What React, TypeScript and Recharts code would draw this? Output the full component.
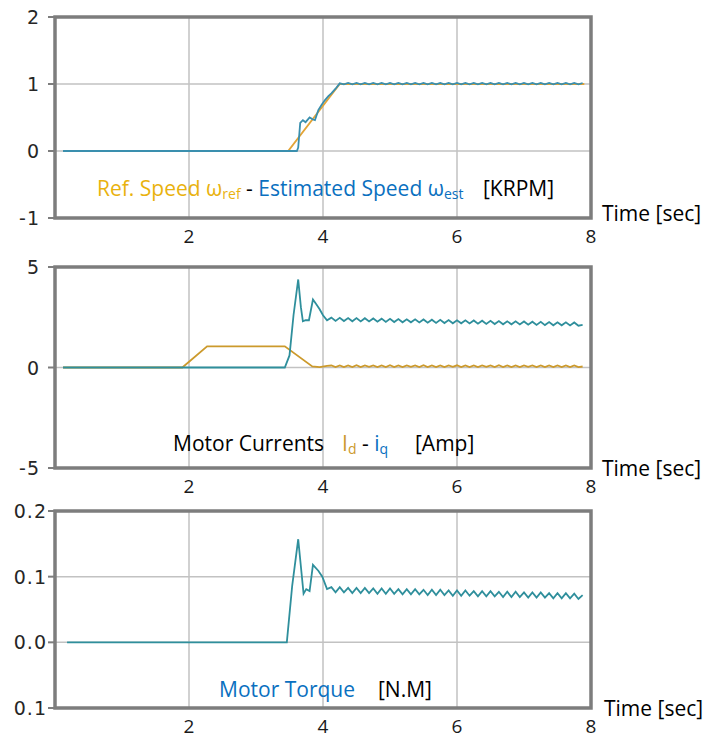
import React from "react";
import {
  LineChart,
  Line,
  XAxis,
  YAxis,
  CartesianGrid,
  ReferenceArea,
} from "recharts";

// time axis
const X_TICKS = [2, 4, 6, 8];

// shared time grid for the steady-state ripple part (s)
const RIPPLE_T = [
  4.125, 4.1875, 4.25, 4.3125,
  4.375, 4.4375, 4.5, 4.5625, 4.625, 4.6875, 4.75, 4.8125, 4.875, 4.9375,
  5.0, 5.0625, 5.125, 5.1875, 5.25, 5.3125, 5.375, 5.4375, 5.5, 5.5625, 5.625, 5.6875, 5.75, 5.8125, 5.875, 5.9375,
  6.0, 6.0625, 6.125, 6.1875, 6.25, 6.3125, 6.375, 6.4375, 6.5, 6.5625, 6.625, 6.6875, 6.75, 6.8125, 6.875, 6.9375,
  7.0, 7.0625, 7.125, 7.1875, 7.25, 7.3125, 7.375, 7.4375, 7.5, 7.5625, 7.625, 7.6875, 7.75, 7.8125, 7.875,
];

// --- speed [KRPM] ---
const SPEED_TICKS = [-1, 0, 1, 2];
const SPEED_LABELS = ["-1", "0", "1", "2"];
const SPEED_REF_T = [0.12, 3.48, 4.25, 7.9];
const SPEED_REF_V = [0, 0, 1, 1];
const SPEED_EST_T = [0.12, 3.61, 3.63, 3.66, 3.7, 3.74, 3.8, 3.85, 3.88, 3.93, 3.98, 4.03, 4.08];
const SPEED_EST_V = [0, 0, 0.05, 0.42, 0.46, 0.43, 0.5, 0.47, 0.46, 0.61, 0.69, 0.76, 0.82];
const SPEED_EST_RIPPLE = [
  0.86, 0.93, 1.01,
  0.995, 1.015, 0.995, 1.015, 0.995, 1.015, 0.995, 1.015, 0.995, 1.015,
  0.995, 1.015, 0.995, 1.015, 0.995, 1.015, 0.995, 1.015, 0.995, 1.015,
  0.995, 1.015, 0.995, 1.015, 0.995, 1.015, 0.995, 1.015, 0.995, 1.015,
  0.995, 1.015, 0.995, 1.015, 0.995, 1.015, 0.995, 1.015, 0.995, 1.015,
  0.995, 1.015, 0.995, 1.015, 0.995, 1.015, 0.995, 1.015, 0.995, 1.015,
  0.995, 1.015, 0.995, 1.015, 0.995, 1.015, 0.995, 1.015,
];

// --- currents [Amp] ---
const CURR_TICKS = [-5, 0, 5];
const CURR_LABELS = ["-5", "0", "5"];
const ID_T = [0.12, 1.9, 2.27, 3.43, 3.84, 3.95, 4.06];
const ID_V = [0, 0, 1.05, 1.05, 0.05, 0.02, 0.08];
const ID_RIPPLE = [
  0.1, 0.02, 0.1, 0.02, 0.1, 0.02, 0.11, 0.02, 0.1, 0.03, 0.1, 0.02,
  0.1, 0.02, 0.11, 0.02, 0.1, 0.02, 0.1, 0.03, 0.1, 0.02, 0.11, 0.02,
  0.1, 0.02, 0.1, 0.02, 0.1, 0.03, 0.11, 0.02, 0.1, 0.02, 0.1, 0.02,
  0.1, 0.03, 0.1, 0.02, 0.11, 0.02, 0.1, 0.02, 0.1, 0.02, 0.1, 0.03,
  0.1, 0.02, 0.1, 0.02, 0.1, 0.02, 0.1, 0.02, 0.1, 0.02, 0.1, 0.02, 0.05,
];
const IQ_T = [0.12, 3.43, 3.5, 3.56, 3.63, 3.67, 3.7, 3.74, 3.79, 3.85, 3.9, 3.95, 4.0, 4.06];
const IQ_V = [0, 0, 0.6, 2.6, 4.38, 3.0, 2.3, 2.35, 2.35, 3.38, 3.15, 2.9, 2.6, 2.35];
const IQ_RIPPLE = [
  2.48, 2.32, 2.47, 2.31, 2.46, 2.3, 2.46, 2.29, 2.45, 2.29,
  2.44, 2.28, 2.43, 2.27, 2.42, 2.26, 2.41, 2.25, 2.4, 2.25,
  2.4, 2.24, 2.39, 2.23, 2.38, 2.22, 2.37, 2.21, 2.36, 2.2,
  2.35, 2.2, 2.35, 2.19, 2.34, 2.18, 2.33, 2.17, 2.32, 2.16,
  2.31, 2.15, 2.3, 2.15, 2.3, 2.14, 2.29, 2.13, 2.28, 2.12,
  2.27, 2.11, 2.26, 2.1, 2.25, 2.1, 2.25, 2.09, 2.24, 2.08, 2.12,
];

// --- torque [N.M] ---
const TORQUE_TICKS = [-0.1, 0, 0.1, 0.2];
const TORQUE_LABELS = ["0.1", "0.0", "0.1", "0.2"];
const TORQUE_T = [0.18, 3.46, 3.54, 3.63, 3.71, 3.75, 3.8, 3.85, 3.93, 3.99, 4.06];
const TORQUE_V = [0, 0, 0.086, 0.157, 0.074, 0.081, 0.078, 0.118, 0.109, 0.1, 0.081];
const TORQUE_RIPPLE = [
  0.084, 0.076, 0.084, 0.076, 0.083, 0.075, 0.083, 0.075, 0.083, 0.075,
  0.082, 0.074, 0.082, 0.074, 0.082, 0.074, 0.081, 0.073, 0.081, 0.073,
  0.081, 0.073, 0.08, 0.072, 0.08, 0.072, 0.08, 0.072, 0.079, 0.071,
  0.079, 0.071, 0.079, 0.071, 0.078, 0.07, 0.078, 0.07, 0.078, 0.07,
  0.077, 0.069, 0.077, 0.069, 0.077, 0.069, 0.076, 0.068, 0.076, 0.068,
  0.076, 0.068, 0.075, 0.067, 0.075, 0.067, 0.075, 0.067, 0.074, 0.066, 0.072,
];

const zip = (ts: number[], vs: number[]) => ts.map((t, i) => ({ t, v: vs[i] }));

const speedRef = zip(SPEED_REF_T, SPEED_REF_V);
const speedEst = [...zip(SPEED_EST_T, SPEED_EST_V), ...zip(RIPPLE_T, SPEED_EST_RIPPLE)];
const idData = [...zip(ID_T, ID_V), ...zip(RIPPLE_T, ID_RIPPLE)];
const iqData = [...zip(IQ_T, IQ_V), ...zip(RIPPLE_T, IQ_RIPPLE)];
const torqueData = [...zip(TORQUE_T, TORQUE_V), ...zip(RIPPLE_T, TORQUE_RIPPLE)];

const FRAME = "#7d7d7d";
const GRID = "#c2c2c2";
const GOLD_TXT = "#e9b20e";
const BLUE_TXT = "#0a70bf";
const REF_LINE = "#e3a437";
const EST_LINE = "#3a8fae";
const ID_LINE = "#cc9a2c";
const TEAL = "#2f8f9c";

const TXT_FONT = "'Open Sans', Lato, sans-serif";

interface PanelProps {
  top: number;
  height: number;
  ticks: number[];
  labels: string[];
  labelGap: number;
  series: { data: { t: number; v: number }[]; color: string }[];
}

const Panel = ({ top, height, ticks, labels, labelGap, series }: PanelProps) => {
  const lo = ticks[0];
  const hi = ticks[ticks.length - 1];
  return (
    <div style={{ position: "absolute", left: 0, top, width: 712, height }}>
      <LineChart
        width={712}
        height={height}
        margin={{ top: 17, right: 121, bottom: 0, left: 0 }}
      >
        <CartesianGrid stroke={GRID} strokeWidth={1.5} />
        <XAxis
          type="number"
          dataKey="t"
          domain={[0, 8]}
          ticks={X_TICKS}
          axisLine={false}
          tickLine={false}
          tickSize={0}
          tickMargin={0}
          height={32}
          tick={(p: any) => (
            <text
              x={p.x}
              y={p.y + 25}
              textAnchor="middle"
              fontFamily={TXT_FONT}
              fontSize={19}
              fill="#1a1a1a"
            >
              {p.payload.value}
            </text>
          )}
        />
        <YAxis
          type="number"
          domain={[lo, hi]}
          ticks={ticks}
          width={55}
          axisLine={false}
          tickLine={{ stroke: FRAME, strokeWidth: 2 }}
          tickSize={7}
          tickMargin={0}
          tick={(p: any) => {
            const i = ticks.indexOf(p.payload.value);
            return (
              <text
                x={p.x - labelGap}
                y={p.y + 7}
                textAnchor="end"
                fontFamily="'DejaVu Sans', sans-serif"
                fontSize={19}
                letterSpacing={1}
                fill="#262626"
              >
                {i >= 0 ? labels[i] : p.payload.value}
              </text>
            );
          }}
        />
        <ReferenceArea
          x1={0}
          x2={8}
          y1={lo}
          y2={hi}
          fill="none"
          stroke={FRAME}
          strokeWidth={3.5}
          ifOverflow="visible"
        />
        {series.map((s, i) => (
          <Line
            key={i}
            data={s.data}
            dataKey="v"
            type="linear"
            stroke={s.color}
            strokeWidth={1.8}
            dot={false}
            isAnimationActive={false}
          />
        ))}
      </LineChart>
    </div>
  );
};

const txt = (left: number, top: number, color: string, children: React.ReactNode) => (
  <div
    style={{
      position: "absolute",
      left,
      top,
      color,
      fontFamily: TXT_FONT,
      fontSize: 21,
      lineHeight: "24px",
      whiteSpace: "nowrap",
    }}
  >
    {children}
  </div>
);

const sub: React.CSSProperties = { fontSize: 14, verticalAlign: "-3px" };

export default function App() {
  return (
    <div
      style={{
        position: "absolute",
        left: 0,
        top: 0,
        width: 712,
        height: 740,
        background: "#fff",
        overflow: "hidden",
      }}
    >
      <Panel
        top={0}
        height={250}
        ticks={SPEED_TICKS}
        labels={SPEED_LABELS}
        labelGap={8}
        series={[
          { data: speedRef, color: REF_LINE },
          { data: speedEst, color: EST_LINE },
        ]}
      />
      <Panel
        top={250}
        height={250}
        ticks={CURR_TICKS}
        labels={CURR_LABELS}
        labelGap={8}
        series={[
          { data: idData, color: ID_LINE },
          { data: iqData, color: TEAL },
        ]}
      />
      <Panel
        top={494}
        height={246}
        ticks={TORQUE_TICKS}
        labels={TORQUE_LABELS}
        labelGap={1}
        series={[{ data: torqueData, color: TEAL }]}
      />

      {txt(
        97,
        176,
        "#000",
        <>
          <span style={{ color: GOLD_TXT }}>
            Ref. Speed ω<span style={sub}>ref</span>
          </span>{" "}
          -{" "}
          <span style={{ color: BLUE_TXT }}>
            Estimated Speed ω<span style={sub}>est</span>
          </span>
        </>
      )}
      {txt(483, 176, "#000", "[KRPM]")}
      {txt(602, 201, "#000", "Time [sec]")}

      {txt(173, 431, "#000", "Motor Currents")}
      {txt(
        342,
        431,
        "#000",
        <>
          <span style={{ color: ID_LINE }}>
            I<span style={sub}>d</span>
          </span>{" "}
          -{" "}
          <span style={{ color: BLUE_TXT }}>
            i<span style={sub}>q</span>
          </span>
        </>
      )}
      {txt(415, 431, "#000", "[Amp]")}
      {txt(602, 456, "#000", "Time [sec]")}

      {txt(219, 677, BLUE_TXT, "Motor Torque")}
      {txt(378, 677, "#000", "[N.M]")}
      {txt(604, 696, "#000", "Time [sec]")}
    </div>
  );
}
